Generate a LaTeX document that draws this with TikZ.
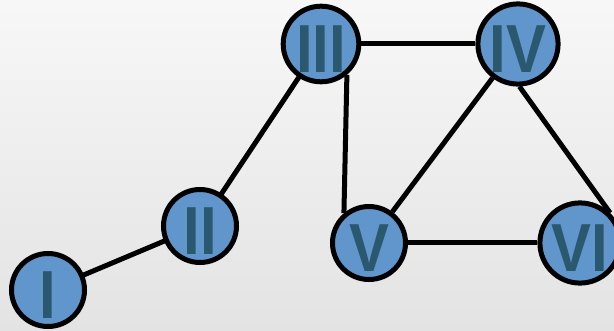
\documentclass[tikz,border=0pt]{standalone}
\usepackage{fontspec}
\setmainfont{Liberation Sans}
\newfontfamily\romanfont{Liberation Sans}[FakeStretch=0.88]
\usepackage{tikz}

\definecolor{nodeblue}{RGB}{96,150,204}
\definecolor{labelteal}{RGB}{42,88,110}

\tikzset{
  vertex/.style={shape=circle, draw=black, line width=5pt, fill=nodeblue,
    minimum size=73pt, inner sep=0pt, text=labelteal, text height=57pt,
    text depth=0pt, font=\romanfont\fontsize{68}{68}\selectfont\bfseries},
  link/.style={draw=black, line width=5pt}
}

\begin{document}
\begin{tikzpicture}[x=1pt, y=-1pt]
	\shade[top color=gray!6, bottom color=gray!22] (0,0) rectangle (614,331);
	\useasboundingbox (0,0) rectangle (614,331);

	\path[link] (48,290) -- (200,226);
	\path[link] (200,226) -- (321,44);

	\node[vertex] (I)   at (48, 290)  {I};
	\node[vertex] (II)  at (200, 226) {II};
	\node[vertex] (III) at (321, 44)  {III};
	\node[vertex] (IV)  at (518, 44)  {IV};
	\node[vertex] (V)   at (369, 243) {V};
	\node[vertex] (VI)  at (580, 243) {VI};

	\path[link] (III) -- (IV);
	\path[link] (III.-50) -- (V.130);
	\path[link] (IV) -- (V);
	\path[link] (IV.-88) -- (VI.45);
	\path[link] (V) -- (VI);

\end{tikzpicture}
\end{document}
